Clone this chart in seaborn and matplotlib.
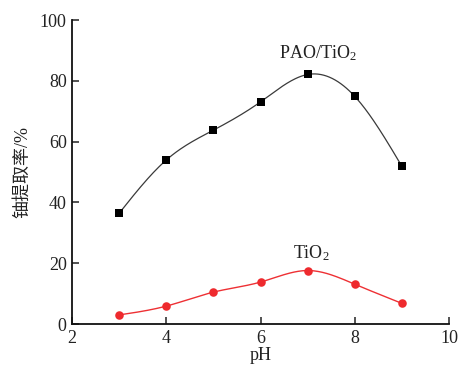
import matplotlib
matplotlib.use("Agg")
import matplotlib.pyplot as plt
import numpy as np
import pandas as pd
import seaborn as sns

# data
ph = [3, 4, 5, 6, 7, 8, 9]
pao_tio2 = [36.5, 54.0, 63.8, 73.1, 82.1, 74.9, 51.9]
tio2 = [3.0, 5.9, 10.5, 13.8, 17.6, 13.1, 6.8]
x_ticks = [2, 4, 6, 8, 10]
y_ticks = [0, 20, 40, 60, 80, 100]


def natural_spline(x, y, n=200):
    # smooth connecting line through the measured points (as in Origin's spline)
    x = np.asarray(x, float)
    y = np.asarray(y, float)
    k = len(x)
    h = np.diff(x)
    a = np.zeros((k, k))
    b = np.zeros(k)
    a[0, 0] = a[-1, -1] = 1
    for i in range(1, k - 1):
        a[i, i - 1] = h[i - 1]
        a[i, i] = 2 * (h[i - 1] + h[i])
        a[i, i + 1] = h[i]
        b[i] = 3 * ((y[i + 1] - y[i]) / h[i] - (y[i] - y[i - 1]) / h[i - 1])
    c = np.linalg.solve(a, b)
    xs = np.linspace(x[0], x[-1], n)
    idx = np.clip(np.searchsorted(x, xs) - 1, 0, k - 2)
    dx = xs - x[idx]
    bb = (y[idx + 1] - y[idx]) / h[idx] - h[idx] * (2 * c[idx] + c[idx + 1]) / 3
    dd = (c[idx + 1] - c[idx]) / (3 * h[idx])
    ys = y[idx] + bb * dx + c[idx] * dx ** 2 + dd * dx ** 3
    return xs, ys


sns.set_theme(style="ticks")
plt.rcParams["font.family"] = ["Liberation Serif", "Noto Sans CJK SC"]
plt.rcParams["mathtext.fontset"] = "custom"
plt.rcParams["mathtext.rm"] = "Liberation Serif"
plt.rcParams["mathtext.it"] = "Liberation Serif:italic"

fig = plt.figure(figsize=(4.6, 3.72), dpi=100)
ax = fig.add_axes([0.157, 0.129, 0.819, 0.817])

df = pd.DataFrame({"pH": ph, "PAO/TiO2": pao_tio2, "TiO2": tio2})

xs, ys = natural_spline(ph, pao_tio2)
sns.lineplot(x=xs, y=ys, ax=ax, color="#3a3a3a", linewidth=0.9)
sns.scatterplot(data=df, x="pH", y="PAO/TiO2", ax=ax, marker="s", s=30,
                color="black", edgecolor="black", linewidth=0, zorder=3)

xs, ys = natural_spline(ph, tio2)
sns.lineplot(x=xs, y=ys, ax=ax, color="#ee3034", linewidth=1.0)
sns.scatterplot(data=df, x="pH", y="TiO2", ax=ax, marker="o", s=38,
                color="#ee2a2e", edgecolor="#ee2a2e", linewidth=0, zorder=3)

ax.text(7.22, 89.0, "PAO/TiO$_2$", ha="center", va="center", fontsize=13, color="#222222")
ax.text(7.07, 23.3, "TiO$_2$", ha="center", va="center", fontsize=13, color="#222222")

ax.set_xlim(2, 10)
ax.set_ylim(0, 100)
ax.set_xticks(x_ticks)
ax.set_yticks(y_ticks)
ax.tick_params(direction="in", length=5, width=1.1, labelsize=13, colors="#222222", pad=4)
for side in ["left", "bottom"]:
    ax.spines[side].set_linewidth(1.3)
    ax.spines[side].set_color("#111111")
sns.despine(ax=ax)

ax.set_xlabel("pH", fontsize=13, color="#222222", labelpad=0)
ax.set_ylabel("铀提取率/%", fontsize=13, color="#222222", labelpad=6)

fig.savefig("out.png", dpi=100)
